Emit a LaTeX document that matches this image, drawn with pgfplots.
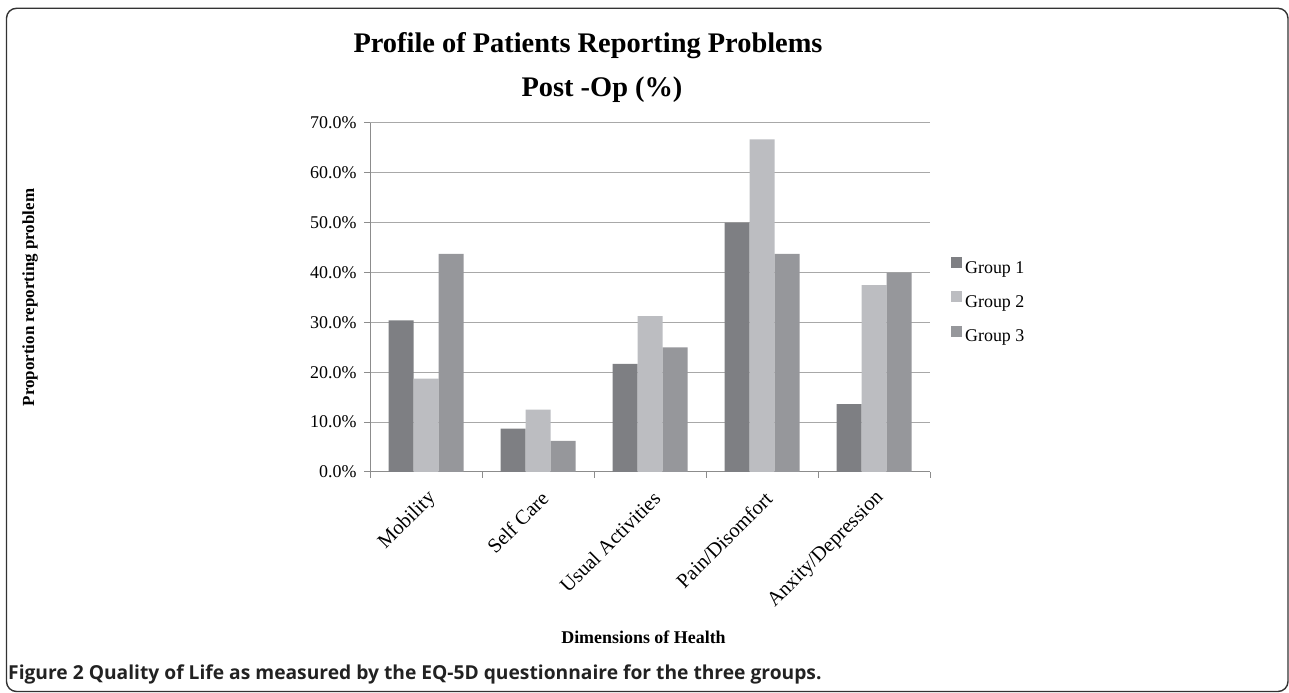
\documentclass[border=0pt]{standalone}
\usepackage{fontspec}
\setmainfont{Liberation Serif}
\newfontfamily\capfont{Open Sans}
\usepackage{pgfplots}
\pgfplotsset{compat=1.18}
\definecolor{gA}{HTML}{7E7F83}
\definecolor{gB}{HTML}{BCBDC1}
\definecolor{gC}{HTML}{96979B}
\definecolor{gridc}{HTML}{A8A8A8}
\definecolor{axc}{HTML}{8C8C8C}
\definecolor{capc}{HTML}{222222}
\pgfplotsset{sqleg/.style={legend image code/.code={\fill[##1,draw=none] (0bp,0bp) rectangle (11bp,11bp);}}}
\begin{document}
\begin{tikzpicture}[x=1bp,y=1bp]
\useasboundingbox (0,0) rectangle (1289,693);
\draw[line width=1.4bp, color=black!80, rounded corners=10bp] (6.5,1.5) rectangle (1288,684.7);
\node[anchor=base, font=\fontsize{28.5}{34}\selectfont\bfseries] at (588,640) {Profile of Patients Reporting Problems};
\node[anchor=base, font=\fontsize{28.5}{34}\selectfont\bfseries] at (602,596) {Post -Op (\%)};
\begin{axis}[
  at={(370bp,221bp)}, anchor=south west, scale only axis,
  width=560bp, height=349bp,
  ybar=0pt, bar width=25bp,
  xmin=-0.5, xmax=4.5, ymin=0, ymax=70,
  enlarge x limits=false, enlarge y limits=false,
  xtick={0,1,2,3,4},
  xticklabels={Mobility,Self Care,Usual Activities,Pain/Disomfort,Anxity/Depression},
  minor xtick={-0.5,0.5,1.5,2.5,3.5,4.5},
  major x tick style={draw=none},
  ytick={0,10,20,30,40,50,60,70},
  yticklabels={0.0\%,10.0\%,20.0\%,30.0\%,40.0\%,50.0\%,60.0\%,70.0\%},
  /pgf/number format/assume math mode=true,
  ymajorgrids, grid style={gridc, line width=1bp},
  axis x line*=bottom, axis y line*=left,
  axis line style={axc, line width=1bp, -},
  tick align=outside, major tick length=6bp, minor tick length=6bp,
  tick style={axc, line width=1bp},
  yticklabel style={font=\fontsize{18}{20}\selectfont, anchor=east, xshift=-4bp},
  xticklabel style={font=\fontsize{20.5}{22}\selectfont, rotate=45, anchor=east, yshift=-17bp, xshift=-4bp},
  xlabel={Dimensions of Health},
  xlabel style={font=\fontsize{18}{20}\selectfont\bfseries, at={(axis description cs:0.4884,-0.49)}, anchor=base},
  ylabel={Proportion reporting problem},
  ylabel style={font=\fontsize{17}{20}\selectfont\bfseries, at={(axis description cs:-0.607,0.5)}, anchor=center},
  legend style={at={(1.032,0.49)}, anchor=west, draw=none, fill=none,
    font=\fontsize{18}{20}\selectfont, row sep=15bp,
    nodes={inner sep=1.5bp}},
  legend cell align=left,
]
\addplot[fill=gA, draw=none, sqleg] coordinates {(0,30.4) (1,8.7) (2,21.7) (3,50.0) (4,13.6)};
\addplot[fill=gB, draw=none, sqleg] coordinates {(0,18.75) (1,12.5) (2,31.25) (3,66.7) (4,37.5)};
\addplot[fill=gC, draw=none, sqleg] coordinates {(0,43.75) (1,6.25) (2,25.0) (3,43.75) (4,40.0)};
\legend{\hspace{1.5bp}Group 1,\hspace{1.5bp}Group 2,\hspace{1.5bp}Group 3}
\end{axis}
\node[anchor=base west, text=capc, inner sep=0pt, font=\capfont\fontsize{19.3}{22}\selectfont\bfseries] at (8,13) {Figure 2 Quality of Life as measured by the EQ-5D questionnaire for the three groups.};
\end{tikzpicture}
\end{document}
